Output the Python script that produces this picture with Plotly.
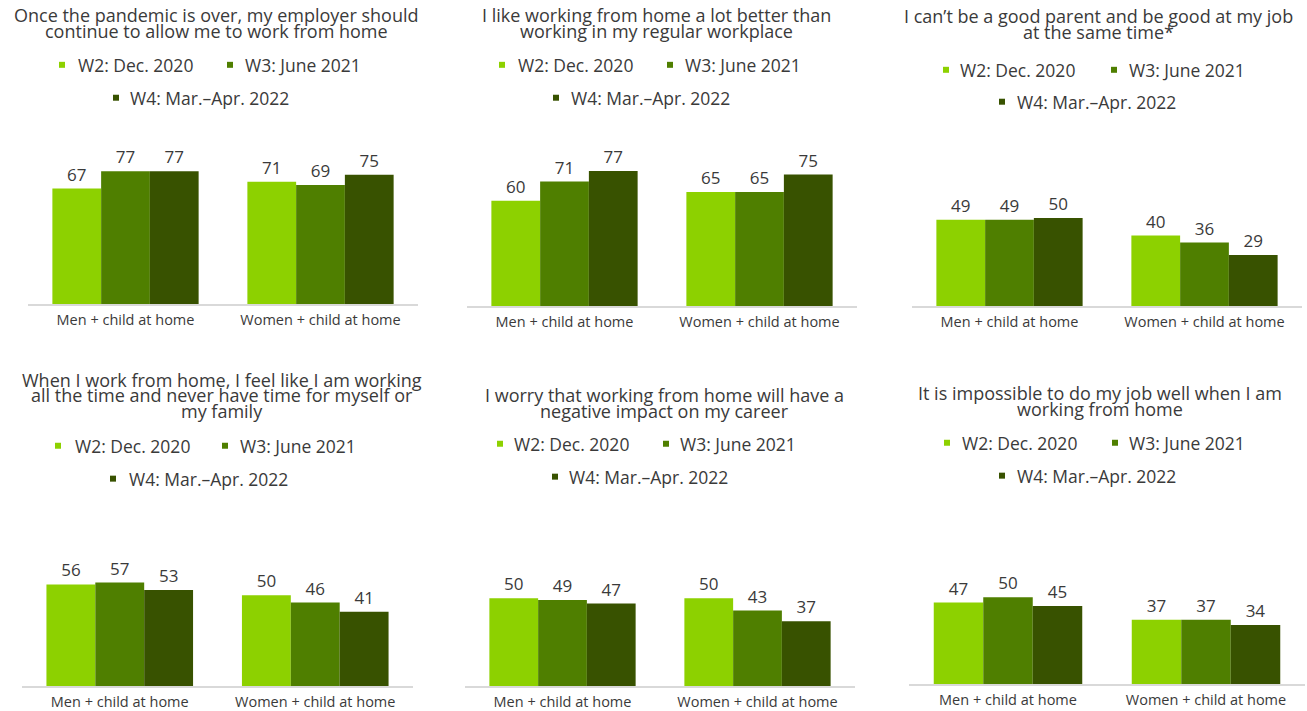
import plotly.graph_objects as go

# ---- data ----
categories = ["Men + child at home", "Women + child at home"]
waves = ["W2: Dec. 2020", "W3: June 2021", "W4: Mar.–Apr. 2022"]
titles = [
    ["Once the pandemic is over, my employer should", "continue to allow me to work from home"],
    ["I like working from home a lot better than", "working in my regular workplace"],
    ["I can’t be a good parent and be good at my job", "at the same time*"],
    ["When I work from home, I feel like I am working",
     "all the time and never have time for myself or", "my family"],
    ["I worry that working from home will have a", "negative impact on my career"],
    ["It is impossible to do my job well when I am", "working from home"],
]
# [men, women] per panel
w2 = [[67, 71], [60, 65], [49, 40], [56, 50], [50, 50], [47, 37]]
w3 = [[77, 69], [71, 65], [49, 36], [57, 46], [49, 43], [50, 37]]
w4 = [[77, 75], [77, 75], [50, 29], [53, 41], [47, 37], [45, 34]]

colors = ["#8dd100", "#4f7f00", "#385200"]
FONT = "Open Sans"
TXT = "#3a3a3a"
W, H = 1307, 711


def fx(v):
    return v / W


def fy(v):
    return 1 - v / H


# panel geometry in pixels: x domain, plot top/bottom, title, legend
panels = [
    dict(x=(28, 418), top=132, bot=305, tcx=216, tys=(15, 31),
         rows=(65, 98), leg=[(59, 76), (227, 243), (113, 128)]),
    dict(x=(467, 857), top=131, bot=307, tcx=657, tys=(15, 31),
         rows=(65, 98), leg=[(499, 516), (667, 683), (553, 569)]),
    dict(x=(912, 1302), top=130, bot=307, tcx=1098, tys=(16, 32),
         rows=(70, 102), leg=[(943, 958), (1111, 1127), (999, 1015)]),
    dict(x=(22, 413), top=506, bot=688, tcx=222, tys=(381, 396, 412),
         rows=(447, 480), leg=[(55, 73), (222, 238), (110, 127)]),
    dict(x=(465, 855), top=512, bot=688, tcx=664, tys=(396, 412),
         rows=(445, 478), leg=[(497, 512), (663, 678), (552, 567)]),
    dict(x=(909, 1305), top=512, bot=686, tcx=1100, tys=(394, 410),
         rows=(444, 477), leg=[(944, 960), (1112, 1127), (999, 1015)]),
]

fig = go.Figure()
annotations = []
shapes = []
wave_vals = [w2, w3, w4]

for i, p in enumerate(panels):
    sfx = "" if i == 0 else str(i + 1)
    for k in range(3):
        vals = wave_vals[k][i]
        fig.add_trace(go.Bar(
            x=categories, y=vals, name=waves[k],
            marker_color=colors[k], marker_line_width=0,
            text=[str(v) for v in vals], textposition="outside",
            textfont=dict(size=17, color=TXT, family=FONT),
            cliponaxis=False, showlegend=False,
            xaxis="x" + sfx, yaxis="y" + sfx,
        ))
    fig.layout["xaxis" + sfx] = dict(
        domain=[fx(p["x"][0]), fx(p["x"][1])], anchor="y" + sfx,
        showline=True, linecolor="#d9d9d9", linewidth=1.5,
        ticks="", showgrid=False, ticklabelstandoff=2,
        tickfont=dict(size=14.5, color=TXT, family=FONT),
    )
    fig.layout["yaxis" + sfx] = dict(
        domain=[fy(p["bot"]), fy(p["top"])], anchor="x" + sfx,
        range=[0, 100], visible=False, showgrid=False,
    )
    # title lines
    for line, ty in zip(titles[i], p["tys"]):
        annotations.append(dict(
            text=line, x=fx(p["tcx"]), y=fy(ty), xref="paper", yref="paper",
            xanchor="center", yanchor="middle", showarrow=False,
            font=dict(size=18, color=TXT, family=FONT),
        ))
    # legend items
    row_of = [0, 0, 1]
    for k, (mx, tx) in enumerate(p["leg"]):
        ry = p["rows"][row_of[k]]
        shapes.append(dict(
            type="rect", xref="paper", yref="paper",
            x0=fx(mx), x1=fx(mx + 6), y0=fy(ry + 3), y1=fy(ry - 3),
            fillcolor=colors[k], line_width=0,
        ))
        annotations.append(dict(
            text=waves[k], x=fx(tx), y=fy(ry), xref="paper", yref="paper",
            xanchor="left", yanchor="middle", showarrow=False,
            font=dict(size=17.5, color=TXT, family=FONT),
        ))

fig.update_layout(
    width=W, height=H,
    margin=dict(l=0, r=0, t=0, b=0),
    paper_bgcolor="white", plot_bgcolor="white",
    barmode="group", bargap=0.25, bargroupgap=0,
    annotations=annotations, shapes=shapes,
    font=dict(family=FONT, color=TXT),
)

fig.write_html("out.html", config={"displayModeBar": False},
               post_script="document.body.style.margin = '0';")
